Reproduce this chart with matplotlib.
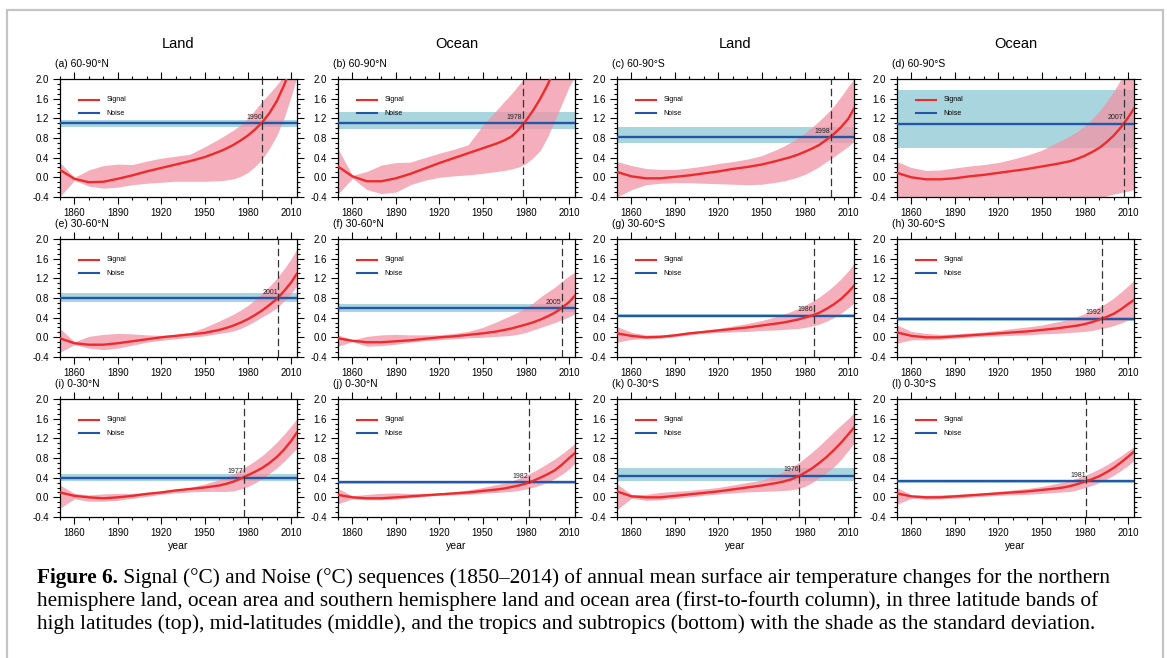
import matplotlib
matplotlib.use('Agg')
import matplotlib.pyplot as plt
from matplotlib.patches import Rectangle
from matplotlib.ticker import MultipleLocator, FormatStrFormatter

plt.rcParams['font.family'] = ['Liberation Sans', 'DejaVu Sans']

# ---------------- data ----------------
years = [1850, 1860, 1870, 1880, 1890, 1900, 1910, 1920, 1930, 1940, 1950, 1960,
         1965, 1970, 1975, 1980, 1985, 1990, 1995, 2000, 2005, 2010, 2014]

col_titles = ['Land', 'Ocean', 'Land', 'Ocean']
panel_labels = ['(a) 60-90°N', '(b) 60-90°N', '(c) 60-90°S', '(d) 60-90°S',
                '(e) 30-60°N', '(f) 30-60°N', '(g) 30-60°S', '(h) 30-60°S',
                '(i) 0-30°N', '(j) 0-30°N', '(k) 0-30°S', '(l) 0-30°S']

sig_a = [0.15, -0.03, -0.10, -0.09, -0.03, 0.04, 0.12, 0.19, 0.26, 0.33, 0.41, 0.52, 0.585, 0.66, 0.75, 0.85, 0.975, 1.12, 1.31, 1.55, 1.87, 2.25, 2.55]
up_a  = [0.30, 0.00, 0.15, 0.24, 0.27, 0.26, 0.33, 0.39, 0.43, 0.47, 0.62, 0.78, 0.87, 0.96, 1.07, 1.20, 1.37, 1.55, 1.71, 1.88, 2.07, 2.30, 2.50]
lo_a  = [-0.39, -0.06, -0.18, -0.22, -0.20, -0.15, -0.12, -0.10, -0.08, -0.08, -0.08, -0.07, -0.055, -0.03, 0.02, 0.10, 0.22, 0.38, 0.59, 0.85, 1.20, 1.65, 2.05]

sig_b = [0.22, 0.02, -0.08, -0.08, -0.02, 0.07, 0.18, 0.29, 0.39, 0.49, 0.59, 0.69, 0.75, 0.83, 0.97, 1.15, 1.36, 1.60, 1.88, 2.20, 2.55, 2.90, 3.20]
up_b  = [0.58, 0.04, 0.12, 0.25, 0.30, 0.31, 0.40, 0.49, 0.57, 0.66, 1.05, 1.38, 1.54, 1.70, 1.88, 2.05, 2.22, 2.40, 2.60, 2.80, 3.00, 3.20, 3.40]
lo_b  = [-0.34, -0.02, -0.25, -0.33, -0.30, -0.15, -0.06, 0.00, 0.03, 0.05, 0.08, 0.12, 0.14, 0.17, 0.21, 0.28, 0.40, 0.55, 0.82, 1.15, 1.50, 1.85, 2.05]

sig_c = [0.11, 0.02, -0.02, -0.02, 0.01, 0.04, 0.08, 0.12, 0.17, 0.21, 0.26, 0.33, 0.37, 0.41, 0.46, 0.52, 0.585, 0.66, 0.765, 0.88, 1.02, 1.19, 1.40]
up_c  = [0.32, 0.24, 0.18, 0.16, 0.16, 0.19, 0.23, 0.28, 0.32, 0.37, 0.44, 0.56, 0.63, 0.71, 0.80, 0.90, 1.02, 1.15, 1.29, 1.45, 1.64, 1.85, 2.00]
lo_c  = [-0.40, -0.25, -0.15, -0.12, -0.11, -0.11, -0.12, -0.13, -0.14, -0.15, -0.14, -0.10, -0.075, -0.04, 0.005, 0.06, 0.135, 0.22, 0.32, 0.42, 0.525, 0.63, 0.73]

sig_d = [0.09, 0.00, -0.04, -0.04, -0.02, 0.02, 0.05, 0.09, 0.13, 0.17, 0.22, 0.27, 0.30, 0.33, 0.38, 0.44, 0.515, 0.60, 0.715, 0.85, 1.02, 1.22, 1.40]
up_d  = [0.32, 0.20, 0.14, 0.15, 0.19, 0.23, 0.26, 0.30, 0.37, 0.45, 0.55, 0.70, 0.77, 0.85, 0.94, 1.05, 1.19, 1.35, 1.54, 1.75, 2.00, 2.30, 2.60]
lo_d  = [-0.55, -0.55, -0.55, -0.55, -0.55, -0.55, -0.55, -0.55, -0.55, -0.55, -0.55, -0.52, -0.51, -0.50, -0.48, -0.46, -0.44, -0.42, -0.38, -0.34, -0.31, -0.28, -0.25]

sig_e = [-0.02, -0.12, -0.15, -0.15, -0.12, -0.08, -0.04, 0.00, 0.03, 0.06, 0.09, 0.15, 0.19, 0.24, 0.30, 0.37, 0.455, 0.55, 0.66, 0.78, 0.94, 1.12, 1.30]
up_e  = [0.18, -0.09, 0.02, 0.06, 0.08, 0.07, 0.05, 0.04, 0.06, 0.10, 0.20, 0.33, 0.40, 0.47, 0.555, 0.65, 0.77, 0.90, 1.04, 1.20, 1.39, 1.60, 1.80]
lo_e  = [-0.30, -0.15, -0.22, -0.25, -0.22, -0.16, -0.10, -0.06, -0.03, 0.00, 0.03, 0.08, 0.10, 0.13, 0.18, 0.25, 0.33, 0.42, 0.50, 0.60, 0.74, 0.90, 1.05]

sig_f = [-0.02, -0.07, -0.10, -0.10, -0.08, -0.06, -0.03, 0.00, 0.02, 0.05, 0.08, 0.12, 0.15, 0.18, 0.22, 0.26, 0.305, 0.36, 0.425, 0.50, 0.60, 0.72, 0.85]
up_f  = [0.05, -0.05, 0.02, 0.05, 0.06, 0.05, 0.05, 0.05, 0.08, 0.12, 0.20, 0.32, 0.385, 0.45, 0.52, 0.60, 0.70, 0.82, 0.92, 1.02, 1.14, 1.25, 1.33]
lo_f  = [-0.18, -0.09, -0.18, -0.17, -0.14, -0.10, -0.07, -0.05, -0.03, -0.01, 0.00, 0.02, 0.03, 0.04, 0.065, 0.10, 0.15, 0.20, 0.25, 0.30, 0.36, 0.42, 0.48]

sig_g = [0.08, 0.03, 0.00, 0.01, 0.04, 0.08, 0.11, 0.14, 0.17, 0.20, 0.24, 0.28, 0.30, 0.33, 0.36, 0.40, 0.445, 0.50, 0.58, 0.67, 0.78, 0.92, 1.05]
up_g  = [0.22, 0.10, 0.05, 0.05, 0.07, 0.11, 0.14, 0.18, 0.23, 0.28, 0.34, 0.42, 0.47, 0.52, 0.58, 0.65, 0.73, 0.82, 0.93, 1.05, 1.19, 1.35, 1.50]
lo_g  = [-0.10, -0.04, -0.03, -0.02, 0.01, 0.05, 0.08, 0.10, 0.11, 0.12, 0.14, 0.15, 0.16, 0.17, 0.18, 0.20, 0.23, 0.27, 0.33, 0.40, 0.49, 0.60, 0.70]

sig_h = [0.10, 0.03, 0.00, 0.00, 0.02, 0.04, 0.06, 0.08, 0.10, 0.12, 0.15, 0.18, 0.20, 0.22, 0.24, 0.27, 0.31, 0.36, 0.415, 0.48, 0.57, 0.68, 0.76]
up_h  = [0.25, 0.12, 0.08, 0.06, 0.07, 0.09, 0.11, 0.14, 0.18, 0.21, 0.25, 0.31, 0.34, 0.38, 0.425, 0.48, 0.545, 0.62, 0.70, 0.80, 0.92, 1.05, 1.15]
lo_h  = [-0.12, -0.05, -0.05, -0.04, -0.02, 0.00, 0.02, 0.03, 0.04, 0.05, 0.07, 0.08, 0.09, 0.10, 0.11, 0.12, 0.14, 0.17, 0.20, 0.24, 0.29, 0.35, 0.40]

sig_i = [0.10, 0.03, 0.00, -0.02, 0.00, 0.03, 0.07, 0.10, 0.14, 0.17, 0.20, 0.24, 0.275, 0.32, 0.38, 0.45, 0.52, 0.60, 0.70, 0.82, 0.97, 1.15, 1.32]
up_i  = [0.25, 0.08, 0.05, 0.07, 0.08, 0.08, 0.10, 0.12, 0.16, 0.20, 0.27, 0.36, 0.415, 0.48, 0.56, 0.65, 0.745, 0.85, 0.98, 1.12, 1.28, 1.45, 1.60]
lo_i  = [-0.22, -0.03, -0.08, -0.08, -0.06, -0.02, 0.02, 0.06, 0.09, 0.11, 0.12, 0.12, 0.12, 0.13, 0.17, 0.22, 0.295, 0.38, 0.485, 0.60, 0.73, 0.88, 1.00]

sig_j = [0.05, 0.00, -0.02, -0.02, 0.00, 0.02, 0.04, 0.06, 0.08, 0.10, 0.13, 0.16, 0.18, 0.21, 0.24, 0.28, 0.335, 0.40, 0.47, 0.55, 0.665, 0.80, 0.90]
up_j  = [0.18, 0.03, 0.06, 0.08, 0.09, 0.08, 0.08, 0.09, 0.11, 0.15, 0.20, 0.26, 0.29, 0.33, 0.385, 0.45, 0.52, 0.60, 0.69, 0.78, 0.885, 1.00, 1.10]
lo_j  = [-0.13, -0.03, -0.05, -0.05, -0.04, -0.01, 0.02, 0.04, 0.05, 0.06, 0.08, 0.10, 0.11, 0.12, 0.14, 0.17, 0.205, 0.25, 0.31, 0.38, 0.47, 0.58, 0.70]

sig_k = [0.12, 0.02, 0.00, 0.00, 0.03, 0.06, 0.09, 0.12, 0.16, 0.20, 0.24, 0.29, 0.32, 0.36, 0.42, 0.50, 0.59, 0.70, 0.82, 0.96, 1.11, 1.28, 1.42]
up_k  = [0.27, 0.06, 0.06, 0.10, 0.12, 0.14, 0.17, 0.20, 0.25, 0.30, 0.35, 0.45, 0.52, 0.60, 0.69, 0.80, 0.92, 1.05, 1.19, 1.33, 1.47, 1.60, 1.72]
lo_k  = [-0.25, -0.02, -0.06, -0.05, -0.02, 0.01, 0.04, 0.07, 0.09, 0.11, 0.12, 0.13, 0.14, 0.15, 0.175, 0.22, 0.30, 0.40, 0.50, 0.62, 0.77, 0.95, 1.10]

sig_l = [0.08, 0.02, 0.00, 0.00, 0.02, 0.04, 0.06, 0.08, 0.10, 0.12, 0.15, 0.18, 0.20, 0.23, 0.27, 0.32, 0.37, 0.43, 0.51, 0.60, 0.71, 0.83, 0.93]
up_l  = [0.20, 0.05, 0.04, 0.05, 0.06, 0.07, 0.09, 0.12, 0.15, 0.18, 0.22, 0.28, 0.31, 0.35, 0.395, 0.45, 0.51, 0.58, 0.66, 0.75, 0.845, 0.95, 1.03]
lo_l  = [-0.14, -0.02, -0.04, -0.03, -0.02, 0.00, 0.02, 0.04, 0.05, 0.06, 0.08, 0.10, 0.11, 0.12, 0.155, 0.20, 0.245, 0.30, 0.37, 0.45, 0.545, 0.65, 0.75]

signals = [sig_a, sig_b, sig_c, sig_d, sig_e, sig_f, sig_g, sig_h, sig_i, sig_j, sig_k, sig_l]
uppers  = [up_a, up_b, up_c, up_d, up_e, up_f, up_g, up_h, up_i, up_j, up_k, up_l]
lowers  = [lo_a, lo_b, lo_c, lo_d, lo_e, lo_f, lo_g, lo_h, lo_i, lo_j, lo_k, lo_l]

noise      = [1.10, 1.10, 0.82, 1.09, 0.80, 0.59, 0.44, 0.38, 0.40, 0.31, 0.44, 0.33]
noise_lo   = [1.03, 0.98, 0.70, 0.60, 0.72, 0.52, 0.42, 0.34, 0.33, 0.28, 0.33, 0.29]
noise_hi   = [1.17, 1.32, 1.03, 1.77, 0.90, 0.68, 0.47, 0.42, 0.47, 0.34, 0.59, 0.36]
cross_year = [1990, 1978, 1998, 2007, 2001, 2005, 1986, 1992, 1977, 1982, 1976, 1981]

x_ticks = [1860, 1890, 1920, 1950, 1980, 2010]
y_ticks = [-0.4, 0.0, 0.4, 0.8, 1.2, 1.6, 2.0]

# ---------------- style / layout ----------------
W, H = 1167, 658
fig = plt.figure(figsize=(W / 100, H / 100), dpi=100)

PINK = (0.95, 0.58, 0.65)
BLUEBAND = '#a8d5de'
BLUE = '#2356a6'
RED = '#ee2b2b'

col_left = [60, 338, 617, 897]
row_top = [79, 239, 399]
aw, ah = 237, 118

for k in range(12):
    r, c = divmod(k, 4)
    l = col_left[c]
    t = row_top[r]
    ax = fig.add_axes([l / W, 1 - (t + ah) / H, aw / W, ah / H])
    ax.axhspan(noise_lo[k], noise_hi[k], color=BLUEBAND, lw=0, zorder=1)
    ax.fill_between(years, lowers[k], uppers[k], color=PINK, alpha=0.75, lw=0, zorder=2)
    ax.axhline(noise[k], color=BLUE, lw=1.7, zorder=3)
    ax.plot(years, signals[k], color=RED, lw=1.7, zorder=4, solid_joinstyle='round')
    ax.axvline(cross_year[k], color='#333333', lw=0.9, dashes=(6, 3), zorder=5)
    ax.text(cross_year[k] - 0.3, noise[k] + 0.05, str(cross_year[k]), ha='right',
            va='bottom', fontsize=5, color='#222222', zorder=6)

    ax.set_xlim(1850, 2014)
    ax.set_ylim(-0.4, 2.0)
    ax.set_xticks(x_ticks)
    ax.set_yticks(y_ticks)
    ax.xaxis.set_minor_locator(MultipleLocator(10))
    ax.yaxis.set_minor_locator(MultipleLocator(0.1))
    ax.yaxis.set_major_formatter(FormatStrFormatter('%.1f'))
    ax.tick_params(which='both', direction='out', top=True, right=True,
                   labeltop=False, labelright=False, width=0.8, colors='black')
    ax.tick_params(which='major', length=5, labelsize=7, pad=3)
    ax.tick_params(which='minor', length=2.5)
    for sp in ax.spines.values():
        sp.set_linewidth(0.9)

    # legend drawn inside, upper left
    ax.plot([0.08, 0.165], [0.824, 0.824], color=RED, lw=1.5, transform=ax.transAxes,
            clip_on=False, zorder=7)
    ax.plot([0.08, 0.165], [0.711, 0.711], color=BLUE, lw=1.5, transform=ax.transAxes,
            clip_on=False, zorder=7)
    ax.text(0.195, 0.824, 'Signal', fontsize=5, va='center', ha='left',
            transform=ax.transAxes, zorder=7)
    ax.text(0.195, 0.711, 'Noise', fontsize=5, va='center', ha='left',
            transform=ax.transAxes, zorder=7)

    ax.text(-0.02, 1.125, panel_labels[k], fontsize=7.5, ha='left', va='center',
            transform=ax.transAxes)
    if r == 0:
        ax.text(0.5, 1.30, col_titles[c], fontsize=10.5, ha='center', va='center',
                transform=ax.transAxes)
    if r == 2:
        ax.set_xlabel('year', fontsize=7.5, labelpad=2)

# border
fig.patches.append(Rectangle((7 / W, -0.02), (1163 - 7) / W, 1 - 10 / H + 0.02,
                             transform=fig.transFigure, fill=False,
                             ec='#c4c4c4', lw=1.6))

# caption
SERIF = ['Liberation Serif', 'DejaVu Serif']
cap_bold = 'Figure 6.'
cap_rest = ' Signal (°C) and Noise (°C) sequences (1850–2014) of annual mean surface air temperature changes for the northern'
cap_2 = 'hemisphere land, ocean area and southern hemisphere land and ocean area (first-to-fourth column), in three latitude bands of'
cap_3 = 'high latitudes (top), mid-latitudes (middle), and the tropics and subtropics (bottom) with the shade as the standard deviation.'

fig.canvas.draw()
rend = fig.canvas.get_renderer()

def text_w(s, fs, weight):
    t = fig.text(0, 0, s, fontsize=fs, family=SERIF, weight=weight)
    w = t.get_window_extent(rend).width
    t.remove()
    return w

fs0 = 14
w0 = text_w(cap_bold, fs0, 'bold') + text_w(cap_rest, fs0, 'normal')
fs = fs0 * (1112 - 37) / w0
wb = text_w(cap_bold, fs, 'bold')

x0 = 37
fig.text(x0 / W, 1 - 578 / H, cap_bold, fontsize=fs, family=SERIF, weight='bold', va='center')
fig.text((x0 + wb) / W, 1 - 578 / H, cap_rest, fontsize=fs, family=SERIF, va='center')
fig.text(x0 / W, 1 - 601 / H, cap_2, fontsize=fs, family=SERIF, va='center')
fig.text(x0 / W, 1 - 624 / H, cap_3, fontsize=fs, family=SERIF, va='center')

fig.savefig('out.png', dpi=100)
